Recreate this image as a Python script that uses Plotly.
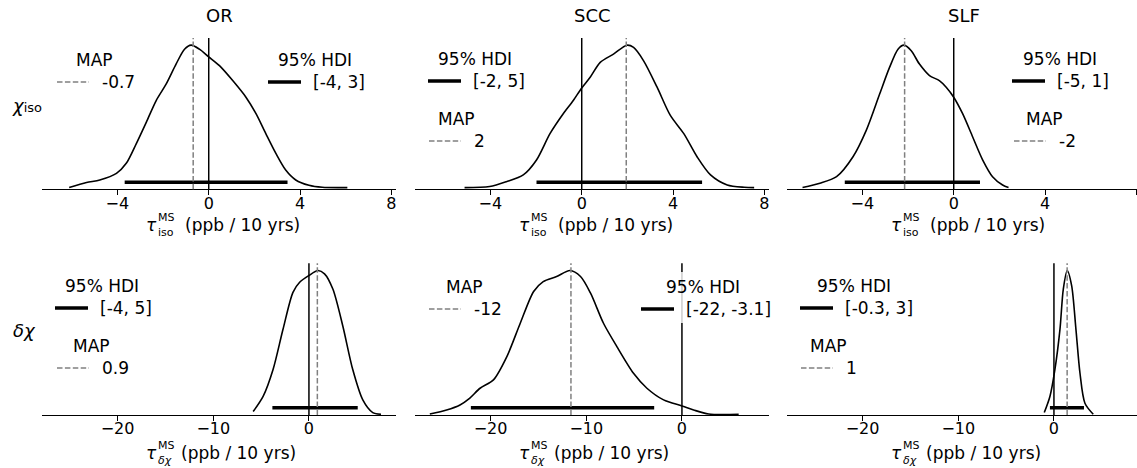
import plotly.graph_objects as go

# ---------------- data ----------------
regions = ["OR", "SCC", "SLF"]

# relative posterior density, chi_iso row
or_iso_x = [-6.11, -5.35, -4.77, -4.04, -3.61, -3.17, -2.73, -2.30, -1.86, -1.43, -1.06, -0.77, -0.41, 0.0,
            0.47, 1.05, 1.63, 2.07, 2.50, 2.94, 3.37, 3.81, 4.39, 4.97, 6.07]
or_iso_d = [0.007, 0.042, 0.060, 0.106, 0.176, 0.314, 0.464, 0.614, 0.730, 0.868, 0.972, 1.0, 0.972, 0.919,
            0.857, 0.753, 0.637, 0.522, 0.383, 0.245, 0.129, 0.060, 0.023, 0.009, 0.007]
scc_iso_x = [-5.13, -4.03, -3.30, -2.56, -1.98, -1.39, -0.81, -0.37, 0.0, 0.37, 0.81, 1.39, 1.98, 2.27,
             2.71, 3.30, 3.88, 4.47, 5.05, 5.64, 6.37, 7.11, 7.55]
scc_iso_d = [0.007, 0.014, 0.048, 0.095, 0.199, 0.383, 0.522, 0.614, 0.702, 0.776, 0.880, 0.938, 1.0, 0.984,
             0.891, 0.707, 0.510, 0.383, 0.222, 0.095, 0.025, 0.009, 0.007]
slf_iso_x = [-6.62, -5.86, -5.13, -4.41, -3.83, -3.24, -2.81, -2.44, -2.18, -1.86, -1.50, -1.06, -0.63,
             -0.33, 0.0, 0.39, 0.83, 1.27, 1.70, 2.14, 2.40]
slf_iso_d = [0.007, 0.037, 0.083, 0.222, 0.406, 0.661, 0.845, 0.972, 1.0, 0.961, 0.868, 0.788, 0.753,
             0.707, 0.637, 0.522, 0.360, 0.199, 0.083, 0.025, 0.007]

# relative posterior density, delta chi row
or_dchi_x = [-5.83, -4.79, -3.75, -2.71, -1.67, -0.97, 0.0, 0.94, 1.63, 2.50, 3.54, 4.58, 5.63, 6.67, 7.53]
or_dchi_d = [0.019, 0.124, 0.311, 0.591, 0.848, 0.918, 0.965, 1.0, 0.977, 0.871, 0.614, 0.311, 0.100, 0.012, 0.0]
scc_dchi_x = [-26.35, -24.6, -23.2, -22.2, -21.1, -19.7, -18.3, -16.9, -15.5, -14.5, -13.1, -11.7, -10.6,
              -9.55, -8.2, -6.8, -5.06, -3.66, -1.92, 0.0, 1.22, 2.79, 5.93]
scc_dchi_d = [0.002, 0.030, 0.065, 0.111, 0.181, 0.239, 0.401, 0.633, 0.854, 0.923, 0.958, 1.0, 0.958,
              0.842, 0.633, 0.471, 0.285, 0.181, 0.100, 0.058, 0.030, 0.002, 0.0]
slf_dchi_x = [-1.01, -0.42, 0.10, 0.63, 0.98, 1.39, 1.85, 2.30, 2.72, 3.24, 4.11]
slf_dchi_d = [0.012, 0.124, 0.311, 0.591, 0.871, 1.0, 0.895, 0.591, 0.287, 0.077, 0.0]

# MAP positions and labels
map_pos = [-0.68, 1.95, -2.15, 0.88, -11.6, 1.38]
map_lbl = ["-0.7", "2", "-2", "0.9", "-12", "1"]
# 95% HDI bounds and labels
hdi_lo = [-3.68, -1.98, -4.77, -3.82, -22.06, -0.42]
hdi_hi = [3.45, 5.27, 1.15, 5.10, -2.90, 3.14]
hdi_lbl = ["[-4, 3]", "[-2, 5]", "[-5, 1]", "[-4, 5]", "[-22, -3.1]", "[-0.3, 3]"]

zero_ref = 0.0

top_ticks = [-4, 0, 4, 8]
top_ticktext = ["\u22124", "0", "4", "8"]
bot_ticks = [-20, -10, 0]
bot_ticktext = ["\u221220", "\u221210", "0"]

curves_x = [or_iso_x, scc_iso_x, slf_iso_x, or_dchi_x, scc_dchi_x, slf_dchi_x]
curves_d = [or_iso_d, scc_iso_d, slf_iso_d, or_dchi_d, scc_dchi_d, slf_dchi_d]

# ---------------- layout / style ----------------
W, H = 1137, 468
FONT = "DejaVu Sans"
col_px = [(42, 396), (415, 769), (787, 1137)]
row_px = [(38, 189.3), (263.3, 415)]
top_left, top_right = -7.3, 8.2
bot_left, bot_right = -27.9, 9.1
YR = [-0.005, 1.05]
HDI_Y = 0.045


def px(x):
    return x / W


def py(y):
    return 1 - y / H


fig = go.Figure()
shapes = []
annotations = []

for i in range(6):
    r, c = divmod(i, 3)
    xa = "x" if i == 0 else f"x{i + 1}"
    ya = "y" if i == 0 else f"y{i + 1}"
    xk = "xaxis" if i == 0 else f"xaxis{i + 1}"
    yk = "yaxis" if i == 0 else f"yaxis{i + 1}"
    x0p, x1p = col_px[c]
    y0p, y1p = row_px[r]
    lo, hi = (top_left, top_right) if r == 0 else (bot_left, bot_right)
    scale = (hi - lo) / (396 - 42)
    rng = [lo, lo + (x1p - x0p) * scale]
    fig.update_layout({
        xk: dict(domain=[px(x0p), px(x1p)], range=rng, anchor=ya,
                 showline=True, linecolor="black", linewidth=1.2, mirror=False,
                 ticks="outside", ticklen=5, tickwidth=1.2, tickcolor="black",
                 ticklabelstandoff=-6,
                 tickvals=top_ticks if r == 0 else bot_ticks,
                 ticktext=top_ticktext if r == 0 else bot_ticktext,
                 tickfont=dict(family=FONT, size=16, color="black"),
                 showgrid=False, zeroline=False),
        yk: dict(domain=[py(y1p), py(y0p)], range=YR, anchor=xa, visible=False,
                 showgrid=False, zeroline=False),
    })
    fig.add_trace(go.Scatter(x=curves_x[i], y=curves_d[i], mode="lines",
                             line=dict(color="black", width=1.6, shape="spline", smoothing=0.8),
                             xaxis=xa, yaxis=ya, showlegend=False, hoverinfo="skip"))
    fig.add_trace(go.Scatter(x=[hdi_lo[i], hdi_hi[i]], y=[HDI_Y, HDI_Y], mode="lines",
                             line=dict(color="black", width=3.5),
                             xaxis=xa, yaxis=ya, showlegend=False, hoverinfo="skip"))
    shapes.append(dict(type="line", xref=xa, yref=f"{ya} domain", x0=zero_ref, x1=zero_ref, y0=0, y1=1,
                       line=dict(color="black", width=1.5), layer="above"))
    shapes.append(dict(type="line", xref=xa, yref=f"{ya} domain", x0=map_pos[i], x1=map_pos[i], y0=0, y1=1,
                       line=dict(color="gray", width=1.5, dash="5.5px,2.4px"), layer="above"))

# legends: (panel, kind, title_cx, line_x0, line_y)
legend_spec = [
    (0, "map", 94.5, 57, 82), (0, "hdi", 315, 268, 82),
    (1, "hdi", 475, 428, 81), (1, "map", 456, 429, 141),
    (2, "hdi", 1060, 1012, 81), (2, "map", 1044, 1014, 141),
    (3, "hdi", 102, 55, 308), (3, "map", 91, 57, 368),
    (4, "map", 464, 429, 309), (4, "hdi", 703, 641, 309),
    (5, "hdi", 854, 800, 308), (5, "map", 828, 801, 368),
]
LFONT = dict(family=FONT, size=17, color="black")
for (i, kind, tcx, lx0, ly) in legend_spec:
    tcy = ly - 22
    shapes.append(dict(type="rect", xref="paper", yref="paper",
                       x0=px(lx0 - 8), x1=px(2 * tcx - lx0 + 8), y0=py(ly + 14), y1=py(tcy - 15),
                       fillcolor="rgba(255,255,255,0.8)", line=dict(width=0), layer="above"))
    if kind == "map":
        shapes.append(dict(type="line", xref="paper", yref="paper", x0=px(lx0), x1=px(lx0 + 32),
                           y0=py(ly), y1=py(ly), line=dict(color="gray", width=1.5, dash="5.5px,2.4px"),
                           layer="above"))
        title, lbl = "MAP", map_lbl[i]
    else:
        shapes.append(dict(type="line", xref="paper", yref="paper", x0=px(lx0), x1=px(lx0 + 33),
                           y0=py(ly), y1=py(ly), line=dict(color="black", width=3.5), layer="above"))
        title, lbl = "95% HDI", hdi_lbl[i]
    annotations.append(dict(text=title, x=px(tcx), y=py(tcy), xref="paper", yref="paper",
                            xanchor="center", yanchor="middle", showarrow=False, font=LFONT))
    annotations.append(dict(text=lbl, x=px(lx0 + 43), y=py(ly), xref="paper", yref="paper",
                            xanchor="left", yanchor="middle", showarrow=False, font=LFONT))

# column titles and x axis titles
for c, name in enumerate(regions):
    cx = (col_px[c][0] + col_px[c][0] + 354) / 2
    annotations.append(dict(text=name, x=px(cx), y=py(16), xref="paper", yref="paper",
                            xanchor="center", yanchor="middle", showarrow=False,
                            font=dict(family=FONT, size=18, color="black")))
    for r, (ly, sub, paren_off) in enumerate([(225, "iso", -36), (453, "<i>δχ</i>", -40)]):
        annotations.append(dict(text="<i>τ</i>", x=px(cx), y=py(ly), xref="paper", yref="paper",
                                xanchor="left", yanchor="middle", xshift=-75, showarrow=False,
                                font=dict(family=FONT, size=17, color="black")))
        annotations.append(dict(text="MS", x=px(cx), y=py(ly), xref="paper", yref="paper",
                                xanchor="left", yanchor="middle", xshift=-63, yshift=7.5, showarrow=False,
                                font=dict(family=FONT, size=11, color="black")))
        annotations.append(dict(text=sub, x=px(cx), y=py(ly), xref="paper", yref="paper",
                                xanchor="left", yanchor="middle", xshift=-63, yshift=-7.5, showarrow=False,
                                font=dict(family=FONT, size=11, color="black")))
        annotations.append(dict(text="(ppb / 10 yrs)", x=px(cx), y=py(ly), xref="paper", yref="paper",
                                xanchor="left", yanchor="middle", xshift=paren_off, showarrow=False,
                                font=dict(family=FONT, size=17, color="black")))

# row labels
annotations.append(dict(text="<i>χ</i><span style='font-size:13px'>iso</span>", x=px(10), y=py(106),
                        xref="paper", yref="paper", xanchor="left", yanchor="middle", showarrow=False,
                        font=dict(family=FONT, size=18, color="black")))
annotations.append(dict(text="<i>δχ</i>", x=px(11), y=py(330),
                        xref="paper", yref="paper", xanchor="left", yanchor="middle", showarrow=False,
                        font=dict(family=FONT, size=18, color="black")))

fig.update_layout(width=W, height=H, margin=dict(l=0, r=0, t=0, b=0),
                  paper_bgcolor="white", plot_bgcolor="white", showlegend=False,
                  shapes=shapes, annotations=annotations,
                  font=dict(family=FONT, color="black"))
fig.write_html("out.html", config={"displayModeBar": False},
               post_script="document.body.style.margin='0px';")
